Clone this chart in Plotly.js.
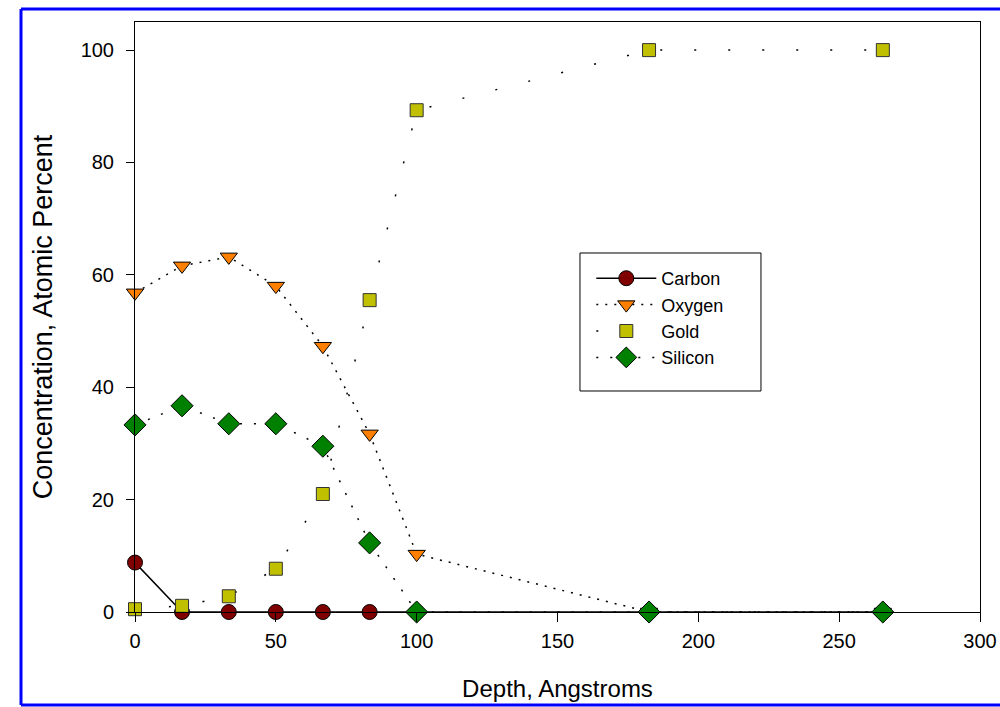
<!DOCTYPE html>
<html>
<head>
<meta charset="utf-8">
<script src="https://cdn.plot.ly/plotly-3.0.1.min.js"></script>
<style>html,body{margin:0;padding:0;background:#fff;overflow:hidden;}#chart{width:1000px;height:707px;}</style>
</head>
<body>
<div id="chart"></div>
<script>
const depth = [0, 16.7, 33.3, 50, 66.7, 83.3, 100, 182.5, 265.5];
const carbon = [8.8, 0, 0, 0, 0, 0, 0, 0, 0];
const oxygen = [56.8, 61.6, 63.2, 58.0, 47.3, 31.7, 10.3, 0, 0];
const gold = [0.5, 1.1, 2.8, 7.7, 21.0, 55.5, 89.3, 100, 100];
const silicon = [33.3, 36.7, 33.5, 33.5, 29.5, 12.3, 0, 0, 0];
const xTicks = [0, 50, 100, 150, 200, 250, 300];
const yTicks = [0, 20, 40, 60, 80, 100];

const FONT = 'Arial, "Liberation Sans", sans-serif';

const traces = [
  {name: 'Carbon', x: depth, y: carbon, mode: 'lines+markers', cliponaxis: false,
   line: {color: '#000', width: 1.5},
   marker: {symbol: 'circle', size: 15, color: '#800000', line: {color: '#000', width: 1}}},
  {name: 'Oxygen', x: depth, y: oxygen, mode: 'lines+markers', cliponaxis: false,
   line: {color: '#000', width: 1.5, dash: '2px,7px'},
   marker: {symbol: 'triangle-down', size: 15, color: '#FF8000', line: {color: '#000', width: 1}}},
  {name: 'Gold', x: depth, y: gold, mode: 'lines+markers', cliponaxis: false,
   line: {color: '#000', width: 1.5, dash: '2px,32px'},
   marker: {symbol: 'square', size: 13, color: '#C0C000', line: {color: '#333', width: 1}}},
  {name: 'Silicon', x: depth, y: silicon, mode: 'lines+markers', cliponaxis: false,
   line: {color: '#000', width: 1.5, dash: '2px,12px'},
   marker: {symbol: 'diamond', size: 17, color: '#008000', line: {color: '#000', width: 1}}}
];

const layout = {
  width: 1000, height: 707,
  paper_bgcolor: '#fff', plot_bgcolor: '#fff',
  margin: {l: 135, r: 20, t: 22, b: 95},
  font: {family: FONT, size: 18, color: '#000'},
  showlegend: true,
  legend: {x: 0.540, y: 0.5966, xanchor: 'left', yanchor: 'top',
           bgcolor: 'rgba(0,0,0,0)', borderwidth: 0,
           font: {family: FONT, size: 18, color: '#000'},
           tracegroupgap: 0, itemwidth: 60},
  xaxis: {range: [0, 300], tickvals: xTicks, ticks: 'outside', ticklen: 9, tickwidth: 1,
          tickcolor: '#000', showline: true, linecolor: '#000', linewidth: 1, mirror: true,
          showgrid: false, zeroline: false, tickfont: {family: FONT, size: 20},
          ticklabelstandoff: 2,
          title: {text: 'Depth, Angstroms', font: {family: FONT, size: 24}, standoff: 29}},
  yaxis: {range: [0, 105], tickvals: yTicks, ticks: 'outside', ticklen: 8, tickwidth: 1,
          tickcolor: '#000', showline: true, linecolor: '#000', linewidth: 1, mirror: true,
          showgrid: false, zeroline: false, tickfont: {family: FONT, size: 20},
          ticklabelstandoff: 8,
          title: {text: 'Concentration, Atomic Percent', font: {family: FONT, size: 27}, standoff: 20}},
  shapes: [
    {type: 'line', xref: 'paper', yref: 'paper', x0: -0.1349, x1: -0.1349, y0: -0.1576, y1: 1.022,
     line: {color: '#0000FF', width: 3}, layer: 'below'},
    {type: 'line', xref: 'paper', yref: 'paper', x0: -0.1349, x1: 1.03, y0: 1.022, y1: 1.022,
     line: {color: '#0000FF', width: 3}, layer: 'below'},
    {type: 'line', xref: 'paper', yref: 'paper', x0: -0.1349, x1: 1.03, y0: -0.1576, y1: -0.1576,
     line: {color: '#0000FF', width: 3}, layer: 'below'},
    {type: 'rect', xref: 'paper', yref: 'paper', x0: 0.5266, x1: 0.7408, y0: 0.3746, y1: 0.6085,
     line: {color: '#000', width: 1}, fillcolor: '#fff', layer: 'below'}
  ]
};

Plotly.newPlot('chart', traces, layout, {displayModeBar: false, staticPlot: true});
</script>
</body>
</html>
